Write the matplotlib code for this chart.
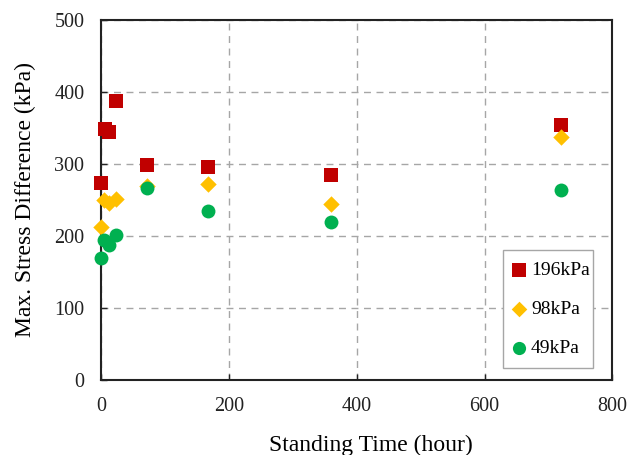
import matplotlib
matplotlib.use("Agg")
import matplotlib.pyplot as plt

plt.rcParams['font.family'] = ['Liberation Serif', 'DejaVu Serif']

hours = [0, 6, 12, 24, 72, 168, 360, 720]
p196 = [274, 348, 345, 387, 298, 296, 284, 354]
hours98 = [0, 5, 12, 24, 72, 168, 360, 720]
p98 = [213, 250, 246, 251, 269, 272, 245, 337]
hours49 = [0, 5, 13, 24, 72, 168, 360, 720]
p49 = [170, 195, 188, 201, 267, 234, 219, 264]

fig = plt.figure(figsize=(6.28, 4.55), dpi=100)
ax = fig.add_axes([0.161, 0.165, 0.814, 0.791])

ax.scatter(hours, p196, marker='s', s=105, color='#C00000', label='196kPa', zorder=3,
           linewidths=0, clip_on=False)
ax.scatter(hours98, p98, marker='D', s=70, color='#FFC000', label='98kPa', zorder=3,
           linewidths=0, clip_on=False)
ax.scatter(hours49, p49, marker='o', s=100, color='#00B050', label='49kPa', zorder=3,
           linewidths=0, clip_on=False)

ax.set_xlim(0, 800)
ax.set_ylim(0, 500)
ax.set_xticks([0, 200, 400, 600, 800])
ax.set_yticks([0, 100, 200, 300, 400, 500])
ax.grid(True, linestyle=(0, (5, 4)), color='#a6a6a6', linewidth=1.0)
ax.set_axisbelow(True)
ax.tick_params(direction='in', length=4, width=1.0, labelsize=14.5, pad=12, colors='#222222')
for sp in ax.spines.values():
    sp.set_color('#222222')
    sp.set_linewidth(1.5)

ax.set_xlabel('Standing Time (hour)', fontsize=17, labelpad=16)
ax.xaxis.set_label_coords(0.528, -0.152)
ax.set_ylabel('Max. Stress Difference (kPa)', fontsize=17, labelpad=13)

leg = ax.legend(loc='lower left', bbox_to_anchor=(0.787, 0.033, 0.176, 0.328), mode='expand',
                fontsize=14, frameon=True, fancybox=False, edgecolor='#a6a6a6', framealpha=1,
                labelspacing=1.1, handletextpad=0.35, handlelength=0.5, borderpad=0.57,
                borderaxespad=0, markerscale=0.95)
leg.get_frame().set_linewidth(1.0)

fig.savefig('out.png', dpi=100)
